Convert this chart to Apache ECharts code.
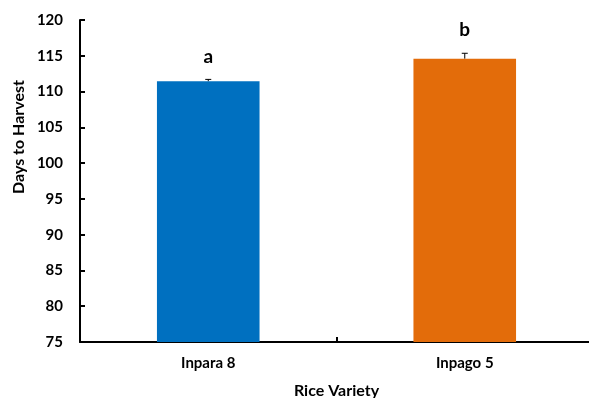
<!DOCTYPE html>
<html><head><meta charset="utf-8">
<script src="https://cdn.jsdelivr.net/npm/echarts@6/dist/echarts.min.js"></script>
<style>html,body{margin:0;padding:0;background:#fff}#c{width:589px;height:398px}</style>
</head><body><div id="c"></div>
<script>
const categories = ['Inpara 8', 'Inpago 5'];
const means = [111.45, 114.6];
const errors = [0.25, 0.75];
const letters = ['a', 'b'];
const barColors = ['#0070C0', '#E36C0A'];
const yTicks = {min: 75, max: 120, interval: 5};

const chart = echarts.init(document.getElementById('c'));
const font = 'Lato, "Open Sans", sans-serif';
chart.setOption({
  animation: false,
  grid: {left: 80, right: -4, top: 20, bottom: 56, outerBoundsMode: 'none', containLabel: false},
  xAxis: {
    type: 'category', data: categories,
    axisLine: {lineStyle: {color: '#000', width: 2}},
    axisTick: {show: true, inside: true, length: 5, lineStyle: {color: '#000', width: 2}},
    axisLabel: {color: '#000', fontFamily: font, fontWeight: 'bold', fontSize: 15, margin: 14},
    name: 'Rice Variety', nameLocation: 'middle', nameGap: 41,
    nameTextStyle: {color: '#000', fontFamily: font, fontWeight: 'bold', fontSize: 16}
  },
  yAxis: {
    type: 'value', min: yTicks.min, max: yTicks.max, interval: yTicks.interval,
    splitLine: {show: false},
    axisLine: {show: true, lineStyle: {color: '#000', width: 2}},
    axisTick: {show: true, inside: true, length: 5, lineStyle: {color: '#000', width: 2}},
    axisLabel: {color: '#000', fontFamily: font, fontWeight: 'bold', fontSize: 15, margin: 17}
  },
  graphic: [{
    type: 'text', x: 19, y: 137, rotation: Math.PI / 2,
    style: {text: 'Days to Harvest', fill: '#000', font: 'bold 16px ' + font, align: 'center', verticalAlign: 'middle'}
  }],
  series: [{
    type: 'bar', barWidth: '40%',
    data: means.map((v, i) => ({value: v, itemStyle: {color: barColors[i]}}))
  }, {
    type: 'custom',
    data: means.map((v, i) => [i, v, errors[i], letters[i]]),
    renderItem: function (params, api) {
      const x = api.coord([api.value(0), api.value(1)])[0];
      const yb = api.coord([api.value(0), api.value(1)])[1];
      const yt = api.coord([api.value(0), api.value(1) + api.value(2)])[1];
      return {type: 'group', children: [
        {type: 'line', shape: {x1: x, y1: yb, x2: x, y2: yt}, style: {stroke: '#000', lineWidth: 1}},
        {type: 'line', shape: {x1: x - 3, y1: yt, x2: x + 3, y2: yt}, style: {stroke: '#000', lineWidth: 1}},
        {type: 'text', x: x, y: yt - 23, style: {text: api.value(3), fill: '#000', font: 'bold 19px ' + font, align: 'center', verticalAlign: 'middle'}}
      ]};
    },
    z: 5
  }]
});
</script></body></html>
